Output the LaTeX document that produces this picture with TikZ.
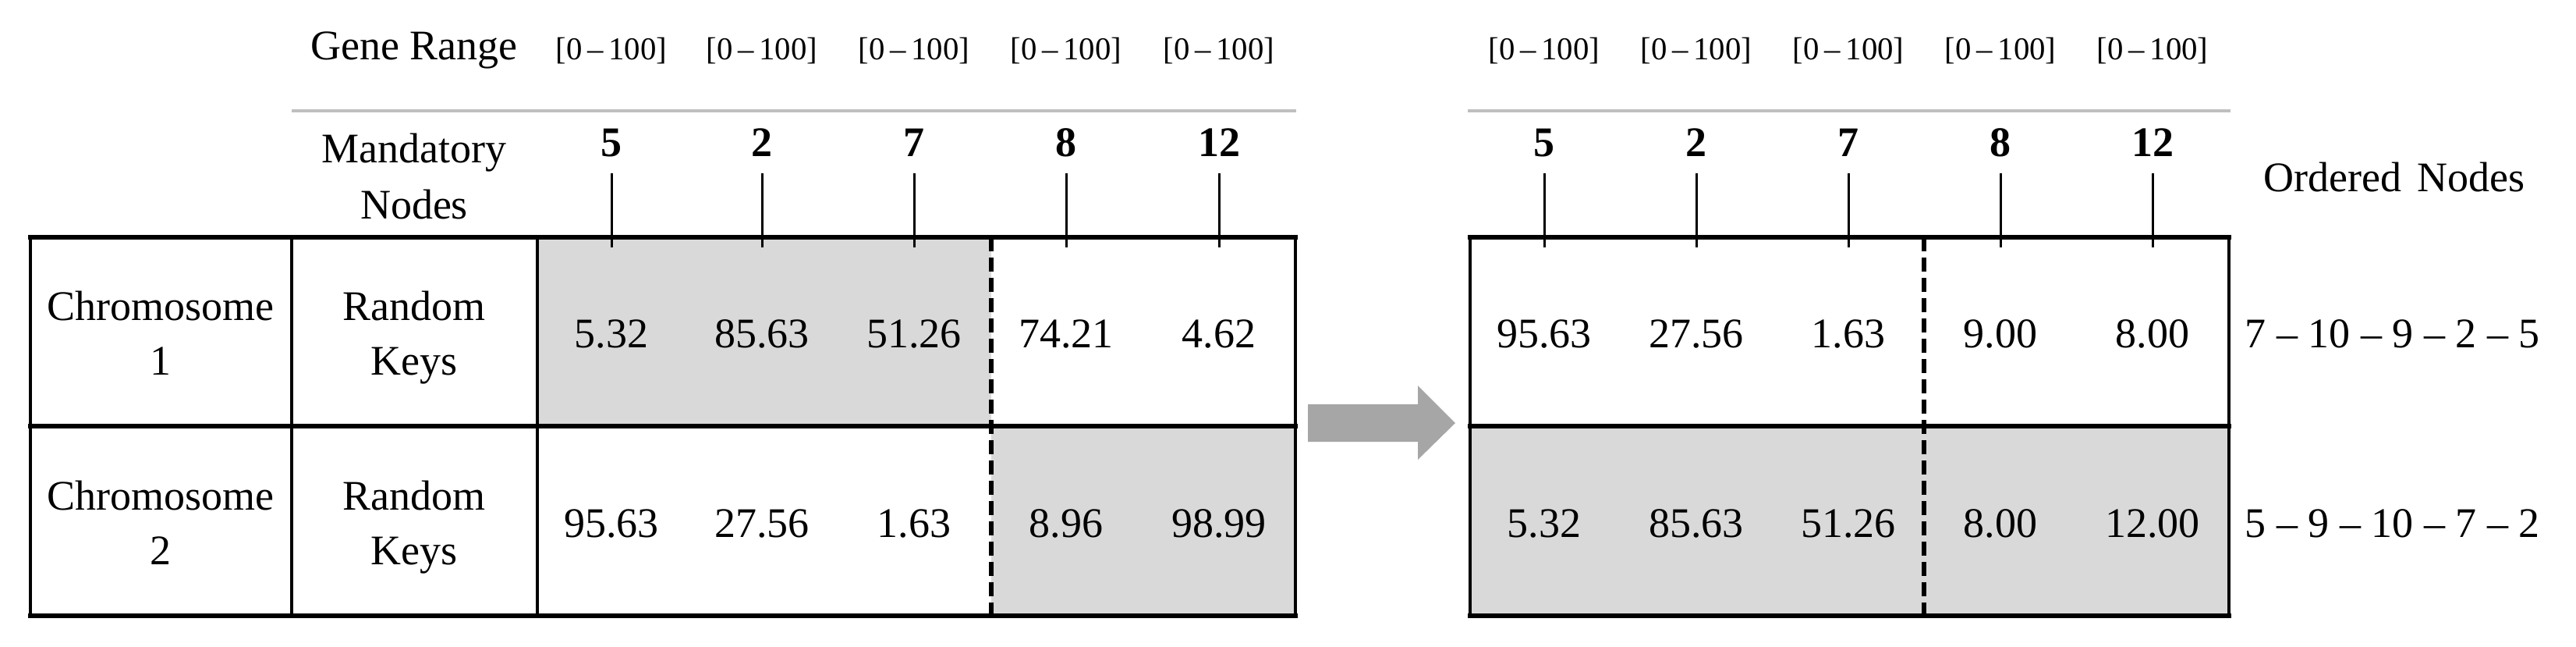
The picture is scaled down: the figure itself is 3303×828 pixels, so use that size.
\documentclass[tikz,border=0pt]{standalone}
\usepackage{fontspec}
\setmainfont{Liberation Serif}
\definecolor{cellgray}{HTML}{D9D9D9}
\definecolor{sepgray}{HTML}{BFBFBF}
\definecolor{arrowgray}{HTML}{A6A6A6}
\begin{document}
\begin{tikzpicture}[x=0.25pt,y=-0.25pt,
  txt/.style={inner sep=0pt, anchor=base, font=\fontsize{13.5}{16}\selectfont},
  seqtxt/.style={inner sep=0pt, anchor=base west, font=\fontsize{13.5}{16}\selectfont},
  rng/.style={inner sep=0pt, anchor=base, font=\fontsize{10.2}{12}\selectfont},
  num/.style={inner sep=0pt, anchor=base, font=\fontsize{13.5}{16}\selectfont\bfseries},
  hline/.style={line width=1.3pt, line cap=rect},
  vline/.style={line width=1.15pt, line cap=rect},
  tickline/.style={line width=0.75pt},
  cutline/.style={line width=1.7pt, dash pattern=on 4.5pt off 2pt},
  sepline/.style={line width=0.9pt, draw=sepgray},
  cellfill/.style={fill=cellgray},
]
\useasboundingbox (0,0) rectangle (3303,828);

% shaded cells
\path[cellfill] (689,304) rectangle (1271,546);
\path[cellfill] (1271,546) rectangle (1661,789);
\path[cellfill] (1885,546) rectangle (2858,789);

% grey separator lines
\coordinate (sepLa) at (374,142);
\coordinate (sepLb) at (1662,142);
\coordinate (sepRa) at (1882,142);
\coordinate (sepRb) at (2860,142);
\draw[sepline] (sepLa) -- (sepLb);
\draw[sepline] (sepRa) -- (sepRb);

% header labels
\node[txt] (generange) at (531,76) {Gene Range};
\node[txt] (mand1) at (531,208) {Mandatory};
\node[txt] (mand2) at (531,280) {Nodes};
\node[txt] (ordered) at (3070,245) {Ordered\hspace{0.38em}Nodes};

% tick coordinates
\coordinate (ttop) at (0,222);
\coordinate (tbot) at (0,317);

% left columns
\foreach \i/\x/\n in {1/784/5,2/977/2,3/1172/7,4/1367/8,5/1563/12}{
  \node[rng] (lr\i) at (\x,76) {[0\,–\,100]};
  \node[num] (ln\i) at (\x,200) {\n};
  \draw[tickline] (ln\i |- ttop) -- (ln\i |- tbot);
}
% right columns
\foreach \i/\x/\n in {1/1980/5,2/2175/2,3/2370/7,4/2565/8,5/2760/12}{
  \node[rng] (rr\i) at (\x,76) {[0\,–\,100]};
  \node[num] (rn\i) at (\x,200) {\n};
  \draw[tickline] (rn\i |- ttop) -- (rn\i |- tbot);
}

% left table grid
\draw[vline] (39,304) -- (39,789);
\draw[vline] (374,304) -- (374,789);
\draw[vline] (689,304) -- (689,789);
\draw[vline] (1661,304) -- (1661,789);
\draw[cutline] (1271,304) -- (1271,789);
\draw[hline] (39,304) -- (1661,304);
\draw[hline] (39,546) -- (1661,546);
\draw[hline] (39,789) -- (1661,789);

% right table grid
\draw[vline] (1885,304) -- (1885,789);
\draw[vline] (2858,304) -- (2858,789);
\draw[cutline] (2467,304) -- (2467,789);
\draw[hline] (1885,304) -- (2858,304);
\draw[hline] (1885,546) -- (2858,546);
\draw[hline] (1885,789) -- (2858,789);

% row labels
\node[txt] (chr1a) at (206,410) {Chromosome};
\node[txt] (chr1b) at (206,480) {1};
\node[txt] (rk1a) at (531,410) {Random};
\node[txt] (rk1b) at (531,480) {Keys};
\node[txt] (chr2a) at (206,653) {Chromosome};
\node[txt] (chr2b) at (206,723) {2};
\node[txt] (rk2a) at (531,653) {Random};
\node[txt] (rk2b) at (531,723) {Keys};

% left values
\foreach \i/\x/\v in {1/784/5.32,2/977/85.63,3/1172/51.26,4/1367/74.21,5/1563/4.62}{
  \node[txt] (la\i) at (\x,445) {\v};
}
\foreach \i/\x/\v in {1/784/95.63,2/977/27.56,3/1172/1.63,4/1367/8.96,5/1563/98.99}{
  \node[txt] (lb\i) at (\x,688) {\v};
}
% right values
\foreach \i/\x/\v in {1/1980/95.63,2/2175/27.56,3/2370/1.63,4/2565/9.00,5/2760/8.00}{
  \node[txt] (ra\i) at (\x,445) {\v};
}
\foreach \i/\x/\v in {1/1980/5.32,2/2175/85.63,3/2370/51.26,4/2565/8.00,5/2760/12.00}{
  \node[txt] (rb\i) at (\x,688) {\v};
}

% ordered sequences
\node[seqtxt] (seq1) at (2878,445) {7 – 10 – 9 – 2 – 5};
\node[seqtxt] (seq2) at (2878,688) {5 – 9 – 10 – 7 – 2};

% block arrow
\fill[arrowgray] (1677,518) -- (1818,518) -- (1818,494) -- (1866,542)
  -- (1818,589) -- (1818,566) -- (1677,566) -- cycle;
\end{tikzpicture}
\end{document}
